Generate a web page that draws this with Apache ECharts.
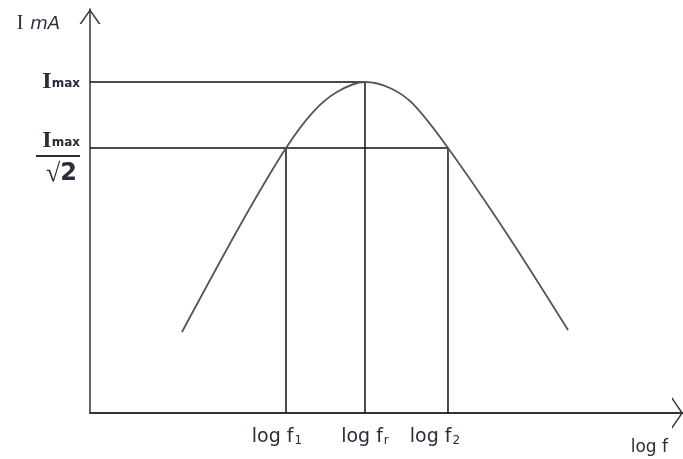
<!DOCTYPE html>
<html>
<head>
<meta charset="utf-8">
<script src="https://cdn.jsdelivr.net/npm/echarts@6/dist/echarts.min.js"></script>
<style>
  html, body { margin: 0; padding: 0; background: #fff; }
  #chart { width: 683px; height: 459px; }
</style>
</head>
<body>
<div id="chart"></div>
<script>
// Resonance curve: current against log f (arbitrary units)
const curveLogF = [15.51, 25.63, 33.05, 37.61, 41.65, 46.37, 50.59, 54.47, 60.37, 70.32, 80.61];
const curveI    = [20.05, 47.28, 65.59, 74.50, 79.46, 81.93, 80.45, 76.49, 65.59, 44.31, 20.54];

// Characteristic levels and frequencies
const iMax = 81.93;         // peak current
const iHalfPower = 65.59;   // Imax / √2 level
const fLow = 33.05;         // log f1
const fRes = 46.37;         // log fr
const fHigh = 60.37;        // log f2

const xTickLabels = ['log f|1', 'log f|r', 'log f|2'];

const ink = '#2b2b3b';
const textFont = 'DejaVu Sans';

// open chevron arrow heads (path tip points up, rotated by the axis)
const yArrow = 'path://M0,15 L10.5,0 L21,15 L19.2,15 L10.5,2.4 L1.8,15 Z';
const xArrow = 'path://M0,11 L16,0 L32,11 L29.5,11 L16,1.8 L2.5,11 Z';

const curveData = curveLogF.map((x, i) => [x, curveI[i]]);
const xTickValues = [fLow, fRes, fHigh];
const xShift = [18, 0, 26];

const chart = echarts.init(document.getElementById('chart'), null, { renderer: 'canvas' });

chart.setOption({
  animation: false,
  backgroundColor: '#ffffff',
  grid: { left: 90, right: 0, top: 9, bottom: 46 },
  xAxis: {
    type: 'value',
    min: 0,
    max: 100,
    splitLine: { show: false },
    axisTick: { show: false },
    axisLine: {
      show: true,
      onZero: false,
      symbol: ['none', xArrow],
      symbolSize: [32, 11],
      symbolOffset: [0, -5.5],
      lineStyle: { color: '#333', width: 2 }
    },
    name: 'log f',
    nameLocation: 'end',
    nameGap: -15,
    nameTextStyle: {
      align: 'right',
      verticalAlign: 'top',
      padding: [26, 0, 0, 0],
      fontFamily: textFont,
      fontSize: 17,
      color: ink
    },
    axisLabel: {
      show: true,
      customValues: xTickValues,
      margin: 12,
      formatter: function (value) {
        const i = xTickValues.indexOf(value);
        const parts = xTickLabels[i].split('|');
        return '{t|' + parts[0] + '}{s' + i + '|' + parts[1] + '}';
      },
      rich: {
        t: { fontFamily: textFont, fontSize: 19, color: ink, lineHeight: 24 },
        s0: { fontFamily: textFont, fontSize: 12, color: ink, lineHeight: 24, padding: [7, xShift[0], 0, 1] },
        s1: { fontFamily: textFont, fontSize: 12, color: ink, lineHeight: 24, padding: [7, xShift[1], 0, 1] },
        s2: { fontFamily: textFont, fontSize: 12, color: ink, lineHeight: 24, padding: [7, xShift[2], 0, 1] }
      }
    }
  },
  yAxis: {
    type: 'value',
    min: 0,
    max: 100,
    splitLine: { show: false },
    axisTick: { show: false },
    axisLine: {
      show: true,
      onZero: false,
      symbol: ['none', yArrow],
      symbolSize: [21, 15],
      symbolOffset: [0, -7.5],
      lineStyle: { color: '#333', width: 1.5 }
    },
    name: '{a|I}  {b|mA}',
    nameLocation: 'end',
    nameGap: -25,
    nameTextStyle: {
      align: 'right',
      padding: [0, 30, 0, 0],
      rich: {
        a: { fontFamily: 'Liberation Serif', fontSize: 20, color: ink },
        b: { fontFamily: textFont, fontStyle: 'italic', fontSize: 18, color: ink }
      }
    },
    axisLabel: {
      show: true,
      customValues: [iMax, iHalfPower],
      margin: 10,
      formatter: function (value) {
        if (value === iMax) return '{I|I}{m|max}';
        return '{sp|}\n{I|I}{m|max}\n{bar|}\n{sq|√}{two|2}';
      },
      rich: {
        sp: { lineHeight: 22 },
        I: { fontFamily: 'Liberation Serif', fontWeight: 'bold', fontSize: 24, color: ink, lineHeight: 22 },
        m: { fontFamily: textFont, fontWeight: 'bold', fontSize: 12, color: ink, lineHeight: 22, padding: [4, 0, 0, 0] },
        bar: { width: 44, height: 2, backgroundColor: ink, lineHeight: 8 },
        sq: { fontFamily: 'Liberation Serif', fontSize: 26, color: ink, lineHeight: 28 },
        two: { fontFamily: textFont, fontWeight: 'bold', fontSize: 24, color: ink, lineHeight: 28, padding: [0, 3, 0, 0] }
      }
    }
  },
  series: [
    {
      name: 'resonance',
      type: 'line',
      data: curveData,
      smooth: 0.3,
      showSymbol: false,
      lineStyle: { color: '#555', width: 1.8 },
      z: 3
    },
    {
      name: 'peak',
      type: 'line',
      data: [[0, iMax], [fRes, iMax], [fRes, 0]],
      showSymbol: false,
      lineStyle: { color: '#111', width: 1.5 },
      z: 2
    },
    {
      name: 'half power',
      type: 'line',
      data: [[0, iHalfPower], [fHigh, iHalfPower], [fHigh, 0]],
      showSymbol: false,
      lineStyle: { color: '#111', width: 1.5 },
      z: 2
    },
    {
      name: 'lower band edge',
      type: 'line',
      data: [[fLow, iHalfPower], [fLow, 0]],
      showSymbol: false,
      lineStyle: { color: '#111', width: 1.5 },
      z: 2
    }
  ]
});
</script>
</body>
</html>
